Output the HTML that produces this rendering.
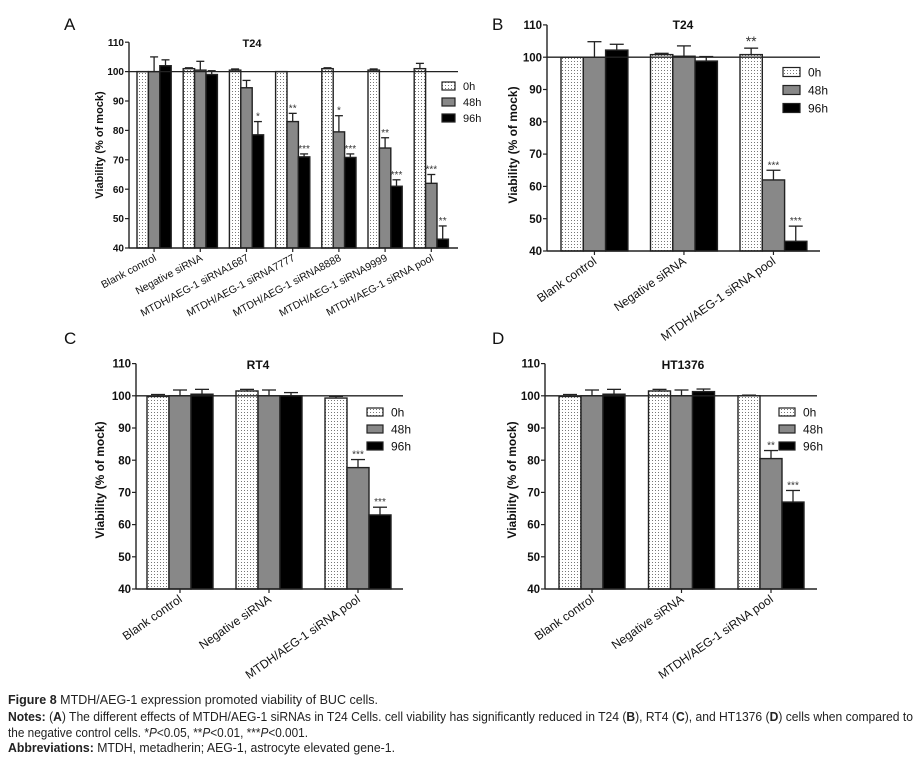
<!DOCTYPE html>
<html><head><meta charset="utf-8"><style>
html,body{margin:0;padding:0;background:#fff;}
svg{display:block;font-family:"Liberation Sans",Arial,sans-serif;}
</style></head><body>
<svg id="fig" width="919" height="766" viewBox="0 0 919 766" xmlns="http://www.w3.org/2000/svg">
<defs>
<pattern id="dots" width="3" height="3" patternUnits="userSpaceOnUse">
<rect width="3" height="3" fill="#fff"/><rect x="1" y="1" width="1" height="1" fill="#777"/>
</pattern>
</defs>
<g id="charts"></g>
<g font-size="12.5" fill="#222">
<text x="8" y="704" textLength="370" lengthAdjust="spacingAndGlyphs"><tspan font-weight="bold">Figure 8</tspan> MTDH/AEG-1 expression promoted viability of BUC cells.</text>
<text x="8" y="721" textLength="905" lengthAdjust="spacingAndGlyphs"><tspan font-weight="bold">Notes:</tspan> (<tspan font-weight="bold">A</tspan>) The different effects of MTDH/AEG-1 siRNAs in T24 Cells. cell viability has significantly reduced in T24 (<tspan font-weight="bold">B</tspan>), RT4 (<tspan font-weight="bold">C</tspan>), and HT1376 (<tspan font-weight="bold">D</tspan>) cells when compared to</text>
<text x="8" y="737" textLength="300" lengthAdjust="spacingAndGlyphs">the negative control cells. *<tspan font-style="italic">P</tspan>&lt;0.05, **<tspan font-style="italic">P</tspan>&lt;0.01, ***<tspan font-style="italic">P</tspan>&lt;0.001.</text>
<text x="8" y="752" textLength="387" lengthAdjust="spacingAndGlyphs"><tspan font-weight="bold">Abbreviations:</tspan> MTDH, metadherin; AEG-1, astrocyte elevated gene-1.</text>
</g>
</svg>
<script>
// Panel A data (T24, siRNAs)
const catsA = ["Blank control","Negative siRNA","MTDH/AEG-1 siRNA1687","MTDH/AEG-1 siRNA7777","MTDH/AEG-1 siRNA8888","MTDH/AEG-1 siRNA9999","MTDH/AEG-1 siRNA pool"];
const a0h = [100, 101, 100.5, 100, 101, 100.5, 101];
const a0hErr = [0, 0.3, 0.4, 0, 0.3, 0.4, 1.8];
const a48h = [100, 100.5, 94.5, 83, 79.5, 74, 62];
const a48hErr = [5, 3, 2.5, 2.8, 5.5, 3.5, 3];
const a96h = [102, 99, 78.5, 71, 70.8, 61, 43];
const a96hErr = [2, 1.3, 4.5, 1, 1.2, 2.2, 4.5];
const aStars0 = ["","","","","","",""];
const aStars48 = ["","","","**","*","**","***"];
const aStars96 = ["","","*","***","***","***","**"];
// Panel B data (T24)
const cats3 = ["Blank control","Negative siRNA","MTDH/AEG-1 siRNA pool"];
const b0h = [100, 100.8, 100.8];
const b0hErr = [0, 0.4, 2];
const b48h = [100, 100.3, 62];
const b48hErr = [4.8, 3.2, 3];
const b96h = [102.2, 98.8, 43];
const b96hErr = [1.8, 1.4, 4.7];
const bStars0 = ["","","**"];
const bStars48 = ["","","***"];
const bStars96 = ["","","***"];
// Panel C data (RT4)
const c0h = [99.8, 101.5, 99.3];
const c0hErr = [0.6, 0.5, 0.5];
const c48h = [100, 100, 77.7];
const c48hErr = [1.8, 1.8, 2.5];
const c96h = [100.5, 100, 63];
const c96hErr = [1.5, 1, 2.4];
const cStars0 = ["","",""];
const cStars48 = ["","","***"];
const cStars96 = ["","","***"];
// Panel D data (HT1376)
const d0h = [99.8, 101.5, 100];
const d0hErr = [0.6, 0.5, 0.2];
const d48h = [100, 100, 80.5];
const d48hErr = [1.8, 1.8, 2.5];
const d96h = [100.5, 101.3, 67];
const d96hErr = [1.5, 0.8, 3.6];
const dStars0 = ["","",""];
const dStars48 = ["","","**"];
const dStars96 = ["","","***"];
const yTicks = [40, 50, 60, 70, 80, 90, 100, 110];
const seriesNames = ["0h", "48h", "96h"];

const NS = "http://www.w3.org/2000/svg";
const root = document.getElementById("charts");
function mk(tag, attrs, parent, txt) {
  const e = document.createElementNS(NS, tag);
  for (const k in attrs) e.setAttribute(k, attrs[k]);
  if (txt !== undefined) e.textContent = txt;
  parent.appendChild(e);
  return e;
}

function drawPanel(L, cats, vals, errs, stars) {
  const g = mk("g", {}, root);
  
  
  const y = v => L.y40 - (v - 40) * L.pxPerUnit;
  const groupX = i => L.g0 + i * L.step;
  const barX = (i, s) => groupX(i) + s * L.bw;
  const fills = ["url(#dots)", "#888", "#000"];
  const pl = mk("text", {x: L.letterX, y: L.letterY, "font-size": 17, fill: "#111"}, g, L.letter);
  
  
  const t = mk("text", {x: L.titleX, y: L.titleY, "font-size": L.fs, "font-weight": "bold", "text-anchor": "middle", fill: "#111"}, g, L.title);
  
  
  for (let s = 0; s < 3; s++) {
    for (let i = 0; i < cats.length; i++) {
      const v = vals[s][i], e = errs[s][i];
      const x = barX(i, s);
      if (e > 0) {
        const ln = mk("line", {x1: x + L.bw / 2, x2: x + L.bw / 2, y1: y(v), y2: y(v + e), stroke: "#222", "stroke-width": 1.3}, g);
        
        
        const cap = mk("line", {x1: x + L.bw / 2 - L.cap, x2: x + L.bw / 2 + L.cap, y1: y(v + e), y2: y(v + e), stroke: "#222", "stroke-width": 1.3}, g);
        
        
      }
      const r = mk("rect", {x: x, y: y(v), width: L.bw, height: L.y40 - y(v), fill: fills[s], stroke: "#222", "stroke-width": 1.4}, g);
      
      
      if (stars[s][i]) {
        const st = mk("text", {x: x + L.bw / 2, y: y(v + e) - 2, "font-size": s === 0 && L.letter === "B" ? 14 : 10, "text-anchor": "middle", fill: "#333"}, g, stars[s][i]);
        
        
      }
    }
  }
  const ref = mk("line", {x1: L.x0, x2: L.x1, y1: y(100), y2: y(100), stroke: "#222", "stroke-width": 1.3}, g);
  
  
  const ya = mk("line", {x1: L.x0, x2: L.x0, y1: y(110), y2: L.y40, stroke: "#222", "stroke-width": 1.4}, g);
  
  
  const xa = mk("line", {x1: L.x0, x2: L.x1, y1: L.y40, y2: L.y40, stroke: "#222", "stroke-width": 1.4}, g);
  
  
  for (const tv of yTicks) {
    mk("line", {x1: L.x0 - 4, x2: L.x0, y1: y(tv), y2: y(tv), stroke: "#222", "stroke-width": 1.2}, g);
    const tl = mk("text", {x: L.x0 - 5, y: y(tv) + L.tfs * 0.36, "font-size": L.tfs, "font-weight": "bold", "text-anchor": "end", fill: "#111"}, g, tv);
    
    
  }
  const yt = mk("text", {x: 0, y: 0, "font-size": L.fs, "font-weight": "bold", "text-anchor": "middle", fill: "#111", transform: `translate(${L.ytX},${L.ytY}) rotate(-90)`}, g, "Viability (% of mock)");
  
  
  for (let i = 0; i < cats.length; i++) {
    const cx = groupX(i) + 1.5 * L.bw;
    mk("line", {x1: cx, x2: cx, y1: L.y40, y2: L.y40 + 4, stroke: "#222", "stroke-width": 1.2}, g);
    const xl = mk("text", {x: 0, y: 0, "font-size": L.xfs, "text-anchor": "end", fill: "#111", transform: `translate(${cx + 3},${L.y40 + 12}) rotate(${L.rot})`}, g, cats[i]);
    
    
  }
  const lg = mk("g", {}, g);
  
  
  for (let s = 0; s < 3; s++) {
    const ly = L.legY + s * L.legStep;
    const lr = mk("rect", {x: L.legX, y: ly - L.legH / 2, width: L.legW, height: L.legH, fill: fills[s], stroke: "#222", "stroke-width": 1.2}, lg);
    
    
    const lt = mk("text", {x: L.legX + L.legW + 8, y: ly + L.fs * 0.38, "font-size": L.fs, fill: "#111"}, lg, seriesNames[s]);
    
    
  }
}

drawPanel({letter: "A", letterX: 64, letterY: 30, title: "T24", titleX: 252, titleY: 47,
  x0: 129, x1: 458, y40: 248, pxPerUnit: 2.94, g0: 137, step: 46.2, bw: 11.4, cap: 4,
  fs: 11, tfs: 10, xfs: 10.5, rot: -28, ytX: 103, ytY: 145,
  legX: 442, legY: 86, legStep: 16, legW: 13, legH: 8},
  catsA, [a0h, a48h, a96h], [a0hErr, a48hErr, a96hErr], [aStars0, aStars48, aStars96]);
drawPanel({letter: "B", letterX: 492, letterY: 30, title: "T24", titleX: 683, titleY: 29,
  x0: 547, x1: 820, y40: 251, pxPerUnit: 3.23, g0: 561, step: 89.5, bw: 22.3, cap: 7,
  fs: 12, tfs: 11.5, xfs: 12, rot: -35, ytX: 517, ytY: 145,
  legX: 783, legY: 72, legStep: 18, legW: 17, legH: 9},
  cats3, [b0h, b48h, b96h], [b0hErr, b48hErr, b96hErr], [bStars0, bStars48, bStars96]);
drawPanel({letter: "C", letterX: 64, letterY: 344, title: "RT4", titleX: 258, titleY: 369,
  x0: 136, x1: 403, y40: 589, pxPerUnit: 3.22, g0: 147, step: 89, bw: 22, cap: 7,
  fs: 12, tfs: 11.5, xfs: 12, rot: -35, ytX: 104, ytY: 480,
  legX: 367, legY: 412, legStep: 17, legW: 16, legH: 8},
  cats3, [c0h, c48h, c96h], [c0hErr, c48hErr, c96hErr], [cStars0, cStars48, cStars96]);
drawPanel({letter: "D", letterX: 492, letterY: 344, title: "HT1376", titleX: 683, titleY: 369,
  x0: 545, x1: 817, y40: 589, pxPerUnit: 3.22, g0: 559, step: 89.5, bw: 22, cap: 7,
  fs: 12, tfs: 11.5, xfs: 12, rot: -35, ytX: 516, ytY: 480,
  legX: 779, legY: 412, legStep: 17, legW: 16, legH: 8},
  cats3, [d0h, d48h, d96h], [d0hErr, d48hErr, d96hErr], [dStars0, dStars48, dStars96]);
</script>
</body></html>
